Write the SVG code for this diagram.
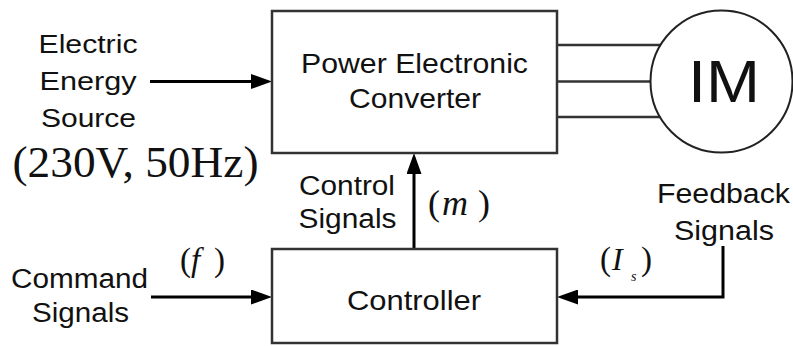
<svg xmlns="http://www.w3.org/2000/svg" width="793" height="346" viewBox="0 0 793 346">
<style>
.box{fill:#fff;stroke:#333;stroke-width:2.5}
.wire{fill:none;stroke:#000;stroke-width:3}
.phase{fill:none;stroke:#333;stroke-width:2.5}
.lbl{font-family:"Liberation Sans",Arial,sans-serif;fill:#111;text-anchor:middle}
.math{font-family:"Liberation Serif","Times New Roman",serif;fill:#111}
</style>
<defs>
<marker id="arr" viewBox="0 0 21 15" refX="1" refY="7.5" markerWidth="21" markerHeight="15" markerUnits="userSpaceOnUse" orient="auto">
<path d="M0,0 L21,7.5 L0,15 z" fill="#000"/>
</marker>
</defs>
<rect width="793" height="346" fill="#fff"/>

<g id="connectors">
<line class="wire" x1="150" y1="81.5" x2="252" y2="81.5" marker-end="url(#arr)"/>
<line class="wire" x1="151" y1="297" x2="252" y2="297" marker-end="url(#arr)"/>
<line class="wire" x1="414" y1="249" x2="414" y2="173" marker-end="url(#arr)"/>
<path class="wire" d="M723,246 V297 H577" marker-end="url(#arr)"/>
<line class="phase" x1="557" y1="45" x2="661" y2="45"/>
<line class="phase" x1="557" y1="81.5" x2="651" y2="81.5"/>
<line class="phase" x1="557" y1="117" x2="661" y2="117"/>
</g>

<g id="source">
<text class="lbl" x="88" y="53" font-size="26" textLength="99" lengthAdjust="spacingAndGlyphs">Electric</text>
<text class="lbl" x="88" y="90" font-size="26" textLength="97" lengthAdjust="spacingAndGlyphs">Energy</text>
<text class="lbl" x="88.5" y="127" font-size="26" textLength="95" lengthAdjust="spacingAndGlyphs">Source</text>
<text class="math" x="135.5" y="177" font-size="44" text-anchor="middle" textLength="246" lengthAdjust="spacingAndGlyphs">(230V, 50Hz)</text>
</g>

<g id="converter">
<rect class="box" x="272" y="11" width="285" height="142"/>
<text class="lbl" x="414.5" y="73" font-size="28" textLength="227" lengthAdjust="spacingAndGlyphs">Power Electronic</text>
<text class="lbl" x="415" y="108" font-size="28" textLength="132" lengthAdjust="spacingAndGlyphs">Converter</text>
</g>

<g id="motor">
<circle cx="721.5" cy="81.5" r="71" fill="#fff" stroke="#222" stroke-width="2"/>
<text class="lbl" x="724" y="102" font-size="60" textLength="72" lengthAdjust="spacingAndGlyphs">IM</text>
</g>

<g id="controller">
<rect class="box" x="272" y="249" width="285" height="94"/>
<text class="lbl" x="414" y="310" font-size="28" textLength="134" lengthAdjust="spacingAndGlyphs">Controller</text>
</g>

<g id="control-signals">
<text class="lbl" x="347" y="195" font-size="27" textLength="96" lengthAdjust="spacingAndGlyphs">Control</text>
<text class="lbl" x="347.5" y="228" font-size="27" textLength="98" lengthAdjust="spacingAndGlyphs">Signals</text>
<text class="math" x="428" y="215" font-size="36">(</text>
<text class="math" x="442" y="215" font-size="36" font-style="italic">m</text>
<text class="math" x="478" y="215" font-size="36">)</text>
</g>

<g id="command-signals">
<text class="lbl" x="79.5" y="288" font-size="27" textLength="137" lengthAdjust="spacingAndGlyphs">Command</text>
<text class="lbl" x="80.5" y="322" font-size="27" textLength="97" lengthAdjust="spacingAndGlyphs">Signals</text>
<text class="math" x="180" y="271" font-size="33">(</text>
<text class="math" x="191" y="271" font-size="33" font-style="italic">f</text>
<text class="math" x="214" y="271" font-size="33">)</text>
</g>

<g id="feedback-signals">
<text class="lbl" x="723.5" y="203" font-size="27" textLength="133" lengthAdjust="spacingAndGlyphs">Feedback</text>
<text class="lbl" x="724" y="240" font-size="27" textLength="100" lengthAdjust="spacingAndGlyphs">Signals</text>
<text class="math" x="600" y="270" font-size="33">(</text>
<text class="math" x="612" y="270" font-size="32" font-style="italic">I</text>
<text class="math" x="631" y="281" font-size="14" font-style="italic">s</text>
<text class="math" x="641" y="270" font-size="33">)</text>
</g>
</svg>
